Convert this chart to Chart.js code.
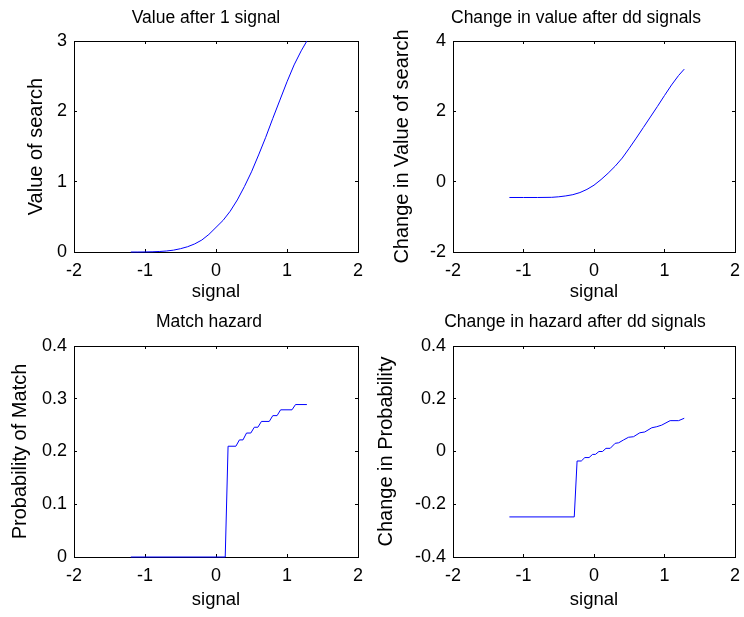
<!DOCTYPE html>
<html>
<head>
<meta charset="utf-8">
<script src="https://cdn.jsdelivr.net/npm/chart.js@4.4.1/dist/chart.umd.min.js"></script>
<style>
  html, body { margin: 0; padding: 0; background: #fff; overflow: hidden; }
  body { width: 744px; height: 617px; position: relative; }
  .panel { position: absolute; }
</style>
</head>
<body>
<div class="panel" style="left:0px;top:0px;width:412px;height:308px"><canvas id="c1"></canvas></div>
<div class="panel" style="left:372px;top:0px;width:408px;height:308px"><canvas id="c2"></canvas></div>
<div class="panel" style="left:0px;top:308px;width:418px;height:309px"><canvas id="c3"></canvas></div>
<div class="panel" style="left:372px;top:308px;width:406px;height:309px"><canvas id="c4"></canvas></div>
<script>
// values
const signal1 = [-1.2, -1.1, -1.0, -0.9, -0.8, -0.7, -0.6, -0.5, -0.4, -0.3, -0.2, -0.1, 0, 0.1, 0.2, 0.3, 0.4, 0.5, 0.6, 0.7, 0.8, 0.9, 1.0, 1.1, 1.2, 1.28];
const valueAfter1 = [0, 0, 0.001, 0.003, 0.007, 0.014, 0.026, 0.047, 0.075, 0.115, 0.17, 0.25, 0.35, 0.45, 0.58, 0.74, 0.93, 1.14, 1.38, 1.63, 1.9, 2.16, 2.42, 2.66, 2.86, 3.0];

const signal2 = [-1.2, -1.0, -0.8, -0.6, -0.5, -0.4, -0.3, -0.2, -0.1, 0, 0.1, 0.2, 0.3, 0.4, 0.5, 0.6, 0.7, 0.8, 0.9, 1.0, 1.1, 1.2, 1.28];
const valueChange = [-0.45, -0.45, -0.45, -0.445, -0.43, -0.405, -0.37, -0.31, -0.22, -0.1, 0.06, 0.24, 0.44, 0.67, 0.95, 1.24, 1.54, 1.84, 2.14, 2.45, 2.75, 3.02, 3.2];

const signal3 = [-1.2, 0.13, 0.17, 0.28, 0.33, 0.38, 0.43, 0.49, 0.54, 0.59, 0.64, 0.75, 0.8, 0.86, 0.91, 1.07, 1.12, 1.28];
const matchHazard = [0, 0, 0.21, 0.21, 0.222, 0.222, 0.235, 0.235, 0.246, 0.246, 0.257, 0.257, 0.268, 0.268, 0.279, 0.279, 0.289, 0.289];

const signal4 = [-1.2, -0.28, -0.24, -0.18, -0.13, -0.07, -0.02, 0.02, 0.07, 0.12, 0.17, 0.23, 0.3, 0.35, 0.42, 0.49, 0.56, 0.65, 0.72, 0.82, 0.89, 0.96, 1.08, 1.2, 1.28];
const hazardChange = [-0.248, -0.248, -0.036, -0.036, -0.023, -0.023, -0.011, -0.011, 0, 0, 0.012, 0.012, 0.031, 0.033, 0.044, 0.054, 0.056, 0.071, 0.074, 0.09, 0.094, 0.1, 0.117, 0.117, 0.126];

const xTicks = { min: -2, max: 2, step: 1 };

Chart.defaults.font.family = '"Liberation Sans", Arial, sans-serif';
Chart.defaults.color = '#000';

function toPoints(xs, ys) {
    return xs.map((x, i) => ({ x: x, y: ys[i] }));
}

// tick marks point inward like a matlab box
function boxGrid() {
    return { drawOnChartArea: false, drawTicks: true, tickLength: -3, color: '#000', lineWidth: 1 };
}

function renderPanel(id, p) {
    const el = document.getElementById(id);
    if (!el) return null;
    return new Chart(el, {
        type: 'line',
        data: {
            datasets: [{
                data: toPoints(p.xs, p.ys),
                borderColor: '#0000ff',
                borderWidth: 1,
                pointRadius: 0,
                tension: 0,
                fill: false,
                clip: false
            }]
        },
        options: {
            animation: false,
            responsive: true,
            maintainAspectRatio: false,
            events: [],
            layout: { padding: 0 },
            plugins: {
                legend: { display: false },
                tooltip: { enabled: false },
                title: {
                    display: true,
                    text: p.title,
                    color: '#000',
                    font: { size: 17.5, weight: 'normal' },
                    padding: p.titlePad
                }
            },
            scales: {
                x: {
                    type: 'linear', position: 'bottom',
                    min: xTicks.min, max: xTicks.max,
                    ticks: { stepSize: xTicks.step, font: { size: 18 }, padding: 11, maxRotation: 0, autoSkip: false },
                    grid: boxGrid(),
                    border: { display: true, color: '#000', width: 1 },
                    title: { display: true, text: 'signal', font: { size: 18.5 }, padding: { top: 0, bottom: p.xTitlePad } },
                    afterFit: s => { s.height = p.bottomH; }
                },
                y: {
                    type: 'linear', position: 'left',
                    min: p.yMin, max: p.yMax,
                    ticks: { stepSize: p.yStep, font: { size: 18 }, padding: 10, autoSkip: false },
                    grid: boxGrid(),
                    border: { display: true, color: '#000', width: 1 },
                    title: { display: true, text: p.yLabel, font: { size: 20 }, padding: { top: p.yTitlePad, bottom: 0 } },
                    afterFit: s => { s.width = p.leftW; }
                },
                x2: {
                    type: 'linear', position: 'top',
                    min: xTicks.min, max: xTicks.max,
                    ticks: { stepSize: xTicks.step, display: false },
                    grid: boxGrid(),
                    border: { display: true, color: '#000', width: 1 },
                    afterFit: s => { s.height = 0; }
                },
                y2: {
                    type: 'linear', position: 'right',
                    min: p.yMin, max: p.yMax,
                    ticks: { stepSize: p.yStep, display: false },
                    grid: boxGrid(),
                    border: { display: true, color: '#000', width: 1 },
                    afterFit: s => { s.width = p.rightW; }
                }
            }
        }
    });
}

renderPanel('c1', {
    title: 'Value after 1 signal', yLabel: 'Value of search',
    xs: signal1, ys: valueAfter1, yMin: 0, yMax: 3, yStep: 1,
    leftW: 74, rightW: 54, bottomH: 56,
    titlePad: { top: 7.5, bottom: 12.5 }, yTitlePad: 24.3, xTitlePad: 5
});
renderPanel('c2', {
    title: 'Change in value after dd signals', yLabel: 'Change in Value of search',
    xs: signal2, ys: valueChange, yMin: -2, yMax: 4, yStep: 2,
    leftW: 81, rightW: 45, bottomH: 56,
    titlePad: { top: 7.5, bottom: 12.5 }, yTitlePad: 18.7, xTitlePad: 5
});
renderPanel('c3', {
    title: 'Match hazard', yLabel: 'Probability of Match',
    xs: signal3, ys: matchHazard, yMin: 0, yMax: 0.4, yStep: 0.1,
    leftW: 74, rightW: 60, bottomH: 60,
    titlePad: { top: 4, bottom: 13 }, yTitlePad: 8.7, xTitlePad: 6
});
renderPanel('c4', {
    title: 'Change in hazard after dd signals', yLabel: 'Change in Probability',
    xs: signal4, ys: hazardChange, yMin: -0.4, yMax: 0.4, yStep: 0.2,
    leftW: 81, rightW: 43, bottomH: 60,
    titlePad: { top: 4, bottom: 13 }, yTitlePad: 2.7, xTitlePad: 6
});
</script>
</body>
</html>
